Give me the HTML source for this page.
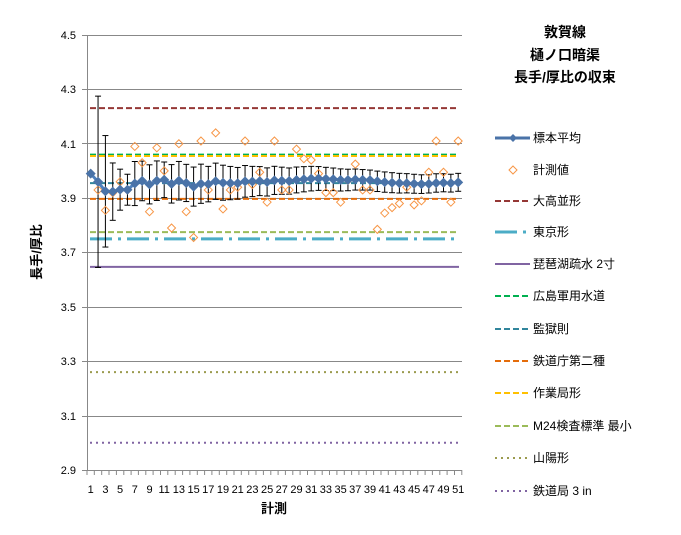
<!DOCTYPE html>
<html><head><meta charset="utf-8"><style>
body{margin:0;background:#fff}
svg text{font-family:"Liberation Sans","Noto Sans CJK JP",sans-serif}
</style></head><body>
<svg id="s" width="681" height="530" xmlns="http://www.w3.org/2000/svg">
<rect width="681" height="530" fill="#fff"/>
<g stroke="#888" stroke-width="1">
<line x1="87" y1="35.5" x2="462" y2="35.5"/><line x1="87" y1="89.5" x2="462" y2="89.5"/>
<line x1="87" y1="143.5" x2="462" y2="143.5"/><line x1="87" y1="198.5" x2="462" y2="198.5"/>
<line x1="87" y1="252.5" x2="462" y2="252.5"/><line x1="87" y1="307.5" x2="462" y2="307.5"/>
<line x1="87" y1="361.5" x2="462" y2="361.5"/><line x1="87" y1="416.5" x2="462" y2="416.5"/>
<line x1="87" y1="470.5" x2="462" y2="470.5"/>
<line x1="87.5" y1="35" x2="87.5" y2="471"/>
<line x1="82" y1="35.5" x2="87" y2="35.5"/><line x1="82" y1="89.5" x2="87" y2="89.5"/><line x1="82" y1="143.5" x2="87" y2="143.5"/><line x1="82" y1="198.5" x2="87" y2="198.5"/><line x1="82" y1="252.5" x2="87" y2="252.5"/><line x1="82" y1="307.5" x2="87" y2="307.5"/><line x1="82" y1="361.5" x2="87" y2="361.5"/><line x1="82" y1="416.5" x2="87" y2="416.5"/><line x1="82" y1="470.5" x2="87" y2="470.5"/>
</g>
<g id="xt" stroke="#888"></g>
<g font-size="11" text-anchor="end" fill="#000">
<text x="76" y="39">4.5</text><text x="76" y="93">4.3</text><text x="76" y="148">4.1</text><text x="76" y="202">3.9</text><text x="76" y="256">3.7</text><text x="76" y="311">3.5</text><text x="76" y="365">3.3</text><text x="76" y="420">3.1</text><text x="76" y="474">2.9</text>
</g>
<g font-size="11" text-anchor="middle" fill="#000">
<text x="90.7" y="493">1</text><text x="105.4" y="493">3</text><text x="120.1" y="493">5</text><text x="134.8" y="493">7</text><text x="149.5" y="493">9</text><text x="164.2" y="493">11</text><text x="178.9" y="493">13</text><text x="193.6" y="493">15</text><text x="208.3" y="493">17</text><text x="223" y="493">19</text><text x="237.7" y="493">21</text><text x="252.4" y="493">23</text><text x="267.1" y="493">25</text><text x="281.8" y="493">27</text><text x="296.5" y="493">29</text><text x="311.2" y="493">31</text><text x="325.9" y="493">33</text><text x="340.6" y="493">35</text><text x="355.3" y="493">37</text><text x="370" y="493">39</text><text x="384.7" y="493">41</text><text x="399.4" y="493">43</text><text x="414.1" y="493">45</text><text x="428.8" y="493">47</text><text x="443.5" y="493">49</text><text x="458.2" y="493">51</text>
</g>
<text x="274" y="513" font-size="13" font-weight="bold" text-anchor="middle">計測</text>
<text transform="translate(41,252) rotate(-90)" font-size="13" font-weight="bold" text-anchor="middle">長手/厚比</text>
<g font-size="14" font-weight="bold" text-anchor="middle">
<text x="565" y="37">敦賀線</text><text x="565" y="60">樋ノ口暗渠</text><text x="565" y="82">長手/厚比の収束</text>
</g>
<g id="refs"></g><g id="data"></g>
<g id="leg"></g>
<g font-size="12" fill="#000">
<text x="533" y="142">標本平均</text><text x="533" y="174">計測値</text><text x="533" y="205">大高並形</text><text x="533" y="236">東京形</text><text x="533" y="268">琵琶湖疏水 2寸</text><text x="533" y="300">広島軍用水道</text><text x="533" y="333">監獄則</text><text x="533" y="365">鉄道庁第二種</text><text x="533" y="397">作業局形</text><text x="533" y="430">M24検査標準 最小</text><text x="533" y="462">山陽形</text><text x="533" y="495">鉄道局 3 in</text>
</g>
</svg>
<script>
const NS="http://www.w3.org/2000/svg";
function el(p,t,a){const e=document.createElementNS(NS,t);for(const k in a)e.setAttribute(k,a[k]);document.getElementById(p).appendChild(e);return e;}
const Y=v=>470-(v-2.9)*271.9, X=i=>90.7+7.35*(i-1);
for(let i=0;i<=51;i++){const x=(87+7.35*i).toFixed(1);el('xt','line',{x1:x,x2:x,y1:470,y2:475});}
const refs=[[4.231,'#953735',2,'6,3'],[3.75,'#4bacc6',3,'22,6,3,6'],[3.647,'#8064a2',2,''],[4.06,'#00b050',2,'6,3'],[3.955,'#31859c',2,'6,3'],[3.897,'#e46c0a',2,'6,3'],[4.055,'#ffc000',2,'6,3'],[3.775,'#9bbb59',2,'6,3'],[3.26,'#9b9b4e',2,'2,4'],[3.0,'#8064a2',2,'2,4']];
refs.forEach((r,k)=>{const a={x1:90,x2:459,y1:Y(r[0]),y2:Y(r[0]),stroke:r[1],'stroke-width':r[2]};if(r[3])a['stroke-dasharray']=r[3];el('refs','line',a);
 const ly=[205,236,268,300,333,365,397,430,462,495][k]-4;const b={x1:495,x2:530,y1:ly,y2:ly,stroke:r[1],'stroke-width':r[2]};if(r[3])b['stroke-dasharray']=r[3];el('leg','line',b);});
const v=[3.99,3.93,3.855,3.92,3.96,3.93,4.09,4.03,3.85,4.085,4.0,3.79,4.10,3.85,3.755,4.11,3.93,4.14,3.86,3.93,3.94,4.11,3.95,3.995,3.885,4.11,3.93,3.93,4.08,4.045,4.04,3.99,3.92,3.92,3.885,3.965,4.025,3.93,3.93,3.785,3.845,3.865,3.88,3.94,3.875,3.89,3.995,4.11,3.995,3.885,4.11];
const tt=[0,12.7,4.3,3.18,2.78,2.57,2.45,2.36,2.31,2.26,2.23,2.2,2.18,2.16,2.14,2.13];
let pts=[];let s=0;
v.forEach((x,i)=>{s+=x;const n=i+1,m=s/n;let e=0;if(n>1){let ss=0;for(let j=0;j<n;j++)ss+=(v[j]-m)**2;const sd=Math.sqrt(ss/(n-1));e=(n-1<tt.length?tt[n-1]:2.05)*sd/Math.sqrt(n)*1.2;}
 if(n==2)e=0.315; if(n==3)e=0.205;
 pts.push([X(n),Y(m)]);
 if(e>0){const x0=X(n);el('data','line',{x1:x0,x2:x0,y1:Y(m+e),y2:Y(m-e),stroke:'#000','stroke-width':1});el('data','line',{x1:x0-3,x2:x0+3,y1:Y(m+e),y2:Y(m+e),stroke:'#000'});el('data','line',{x1:x0-3,x2:x0+3,y1:Y(m-e),y2:Y(m-e),stroke:'#000'});}
});
v.forEach((x,i)=>{const cx=X(i+1),cy=Y(x);el('data','path',{d:`M${cx} ${cy-4}L${cx+4} ${cy}L${cx} ${cy+4}L${cx-4} ${cy}Z`,fill:'none',stroke:'#f79646','stroke-width':1});});
el('data','polyline',{points:pts.map(p=>p.join(',')).join(' '),fill:'none',stroke:'#4f81bd','stroke-width':3});
pts.forEach(p=>el('data','path',{d:`M${p[0]} ${p[1]-5}L${p[0]+5} ${p[1]}L${p[0]} ${p[1]+5}L${p[0]-5} ${p[1]}Z`,fill:'#4a73a8'}));
el('leg','line',{x1:495,x2:530,y1:138,y2:138,stroke:'#4a73a8','stroke-width':3});
el('leg','path',{d:'M513 134L517 138L513 142L509 138Z',fill:'#4a73a8'});
el('leg','path',{d:'M513 166L517 170L513 174L509 170Z',fill:'none',stroke:'#f79646'});
</script>
</body></html>
